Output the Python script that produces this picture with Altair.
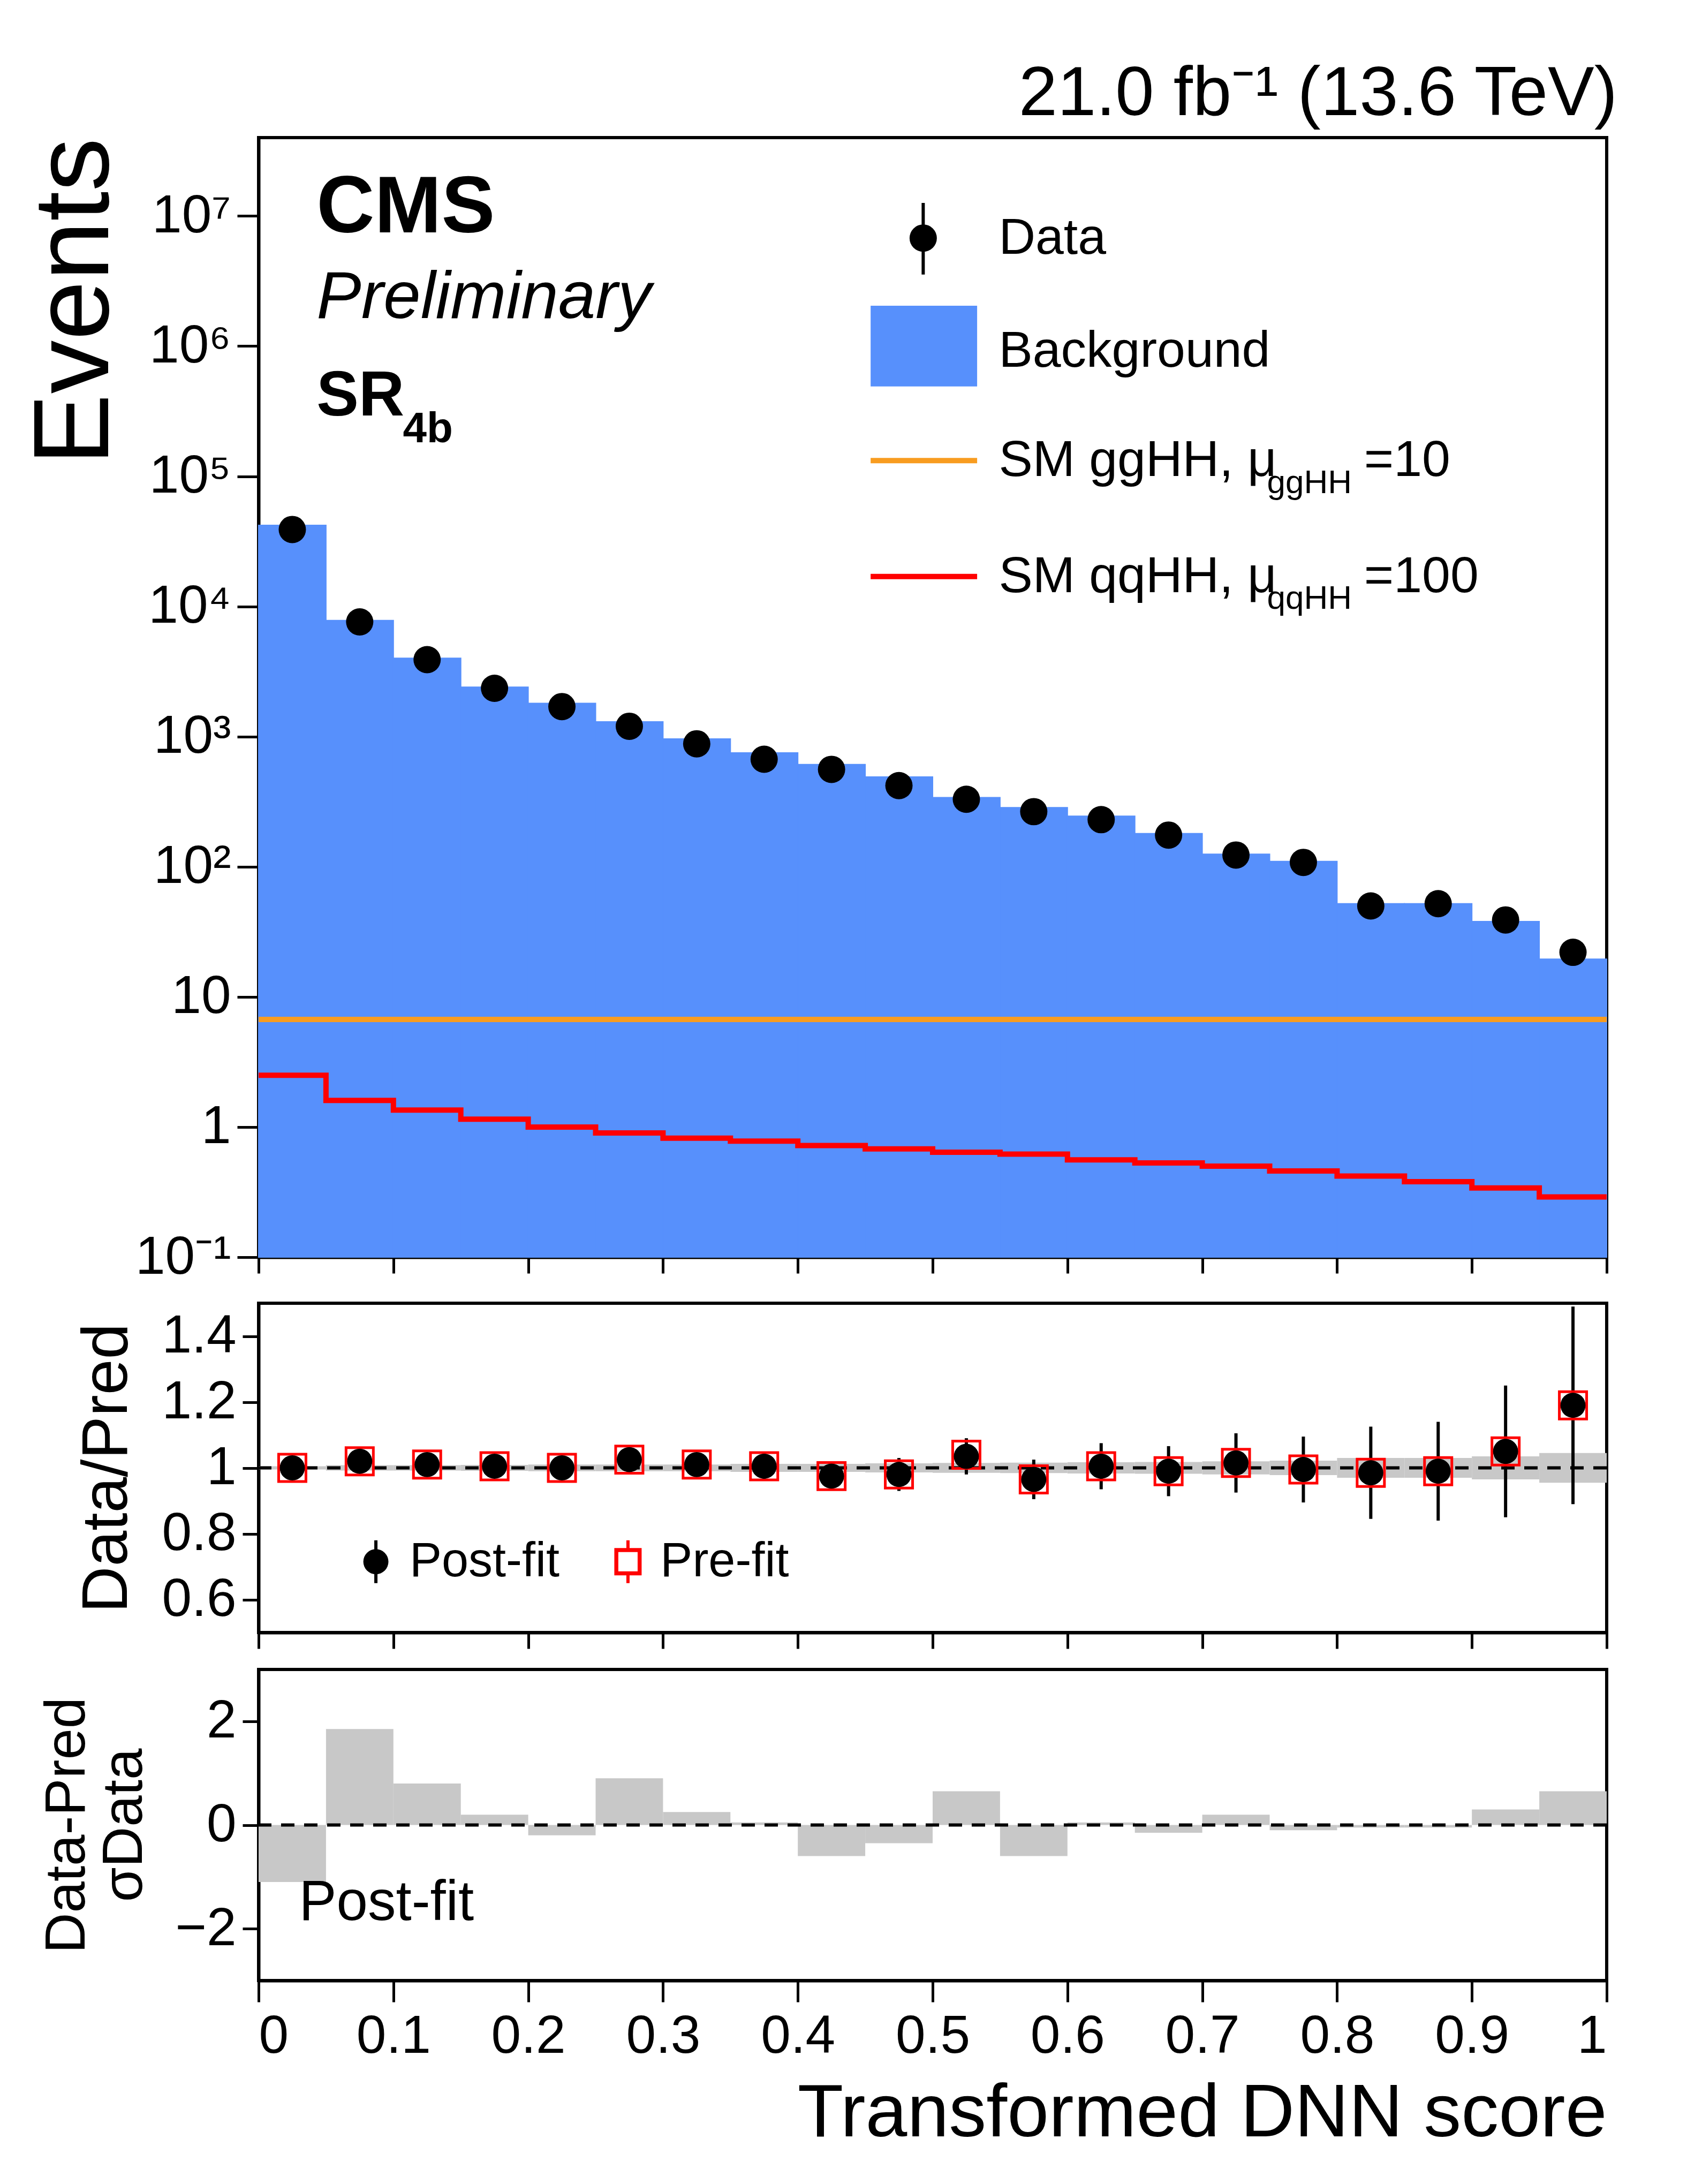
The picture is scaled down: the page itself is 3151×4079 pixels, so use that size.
import altair as alt
import pandas as pd

FONT = "Liberation Sans"

lo = [i * 0.05 for i in range(20)]
hi = [round(v + 0.05, 2) for v in lo]
mid = [round(v + 0.025, 3) for v in lo]

background = [4.2e4, 7.8e3, 4.0e3, 2.4e3, 1.8e3, 1.3e3, 960, 750, 610, 490,
              340, 285, 245, 180, 125, 110, 52, 52, 38, 19.5]
data_obs = [3.9e4, 7.6e3, 3.9e3, 2.35e3, 1.7e3, 1.2e3, 880, 670, 560, 420,
            330, 265, 230, 175, 123, 108, 50, 52, 39, 22]
gghh = [6.7] * 20
qqhh = [2.5, 1.6, 1.35, 1.15, 1.0, 0.9, 0.82, 0.78, 0.72, 0.68,
        0.64, 0.62, 0.56, 0.53, 0.5, 0.46, 0.42, 0.38, 0.34, 0.29]

ratio_post = [1.0, 1.02, 1.01, 1.005, 1.0, 1.025, 1.01, 1.005, 0.975, 0.98,
              1.035, 0.965, 1.005, 0.99, 1.015, 0.995, 0.985, 0.99, 1.05, 1.19]
ratio_pre = [1.0, 1.02, 1.01, 1.005, 1.0, 1.025, 1.01, 1.005, 0.975, 0.98,
             1.04, 0.965, 1.005, 0.99, 1.015, 0.995, 0.985, 0.99, 1.05, 1.19]
ratio_err = [0.005, 0.012, 0.016, 0.02, 0.024, 0.03, 0.034, 0.04, 0.042, 0.05,
             0.055, 0.06, 0.07, 0.076, 0.09, 0.1, 0.14, 0.15, 0.2, 0.3]
band = [0.005, 0.008, 0.008, 0.009, 0.01, 0.01, 0.01, 0.012, 0.012, 0.014,
        0.015, 0.016, 0.017, 0.018, 0.02, 0.022, 0.03, 0.03, 0.035, 0.045]
pulls = [-1.1, 1.85, 0.8, 0.2, -0.2, 0.9, 0.25, 0.05, -0.6, -0.35,
         0.65, -0.6, 0.05, -0.15, 0.2, -0.1, -0.05, -0.05, 0.3, 0.65]

df = pd.DataFrame({"lo": lo, "hi": hi, "mid": mid, "bkg": background, "data": data_obs,
                   "gg": gghh, "qq": qqhh, "rpost": ratio_post, "rpre": ratio_pre,
                   "rerr": ratio_err, "band": band, "pull": pulls})
df["floor"] = 0.1
df["rlo"] = df["rpost"] - df["rerr"]
df["rhi"] = (df["rpost"] + df["rerr"]).clip(upper=1.5)
df["blo"] = 1 - df["band"]
df["bhi"] = 1 + df["band"]
df["zero"] = 0.0
df["dlo"] = df["data"] - df["data"] ** 0.5
df["dhi"] = df["data"] + df["data"] ** 0.5

# step-line tables (edges + final point)
step = pd.DataFrame({"x": lo + [1.0], "gg": gghh + [gghh[-1]], "qq": qqhh + [qqhh[-1]]})

W = 2518
xs = alt.Scale(domain=[0, 1], nice=False, zero=False)
ys = alt.Scale(type="log", domain=[0.1, 4e7], nice=False)

noax = alt.Axis(labels=False, title=None, values=[i / 10 for i in range(11)],
                tickSize=30)
ylab = ("datum.value==0.1?'10⁻¹':datum.value==1?'1':datum.value==10?'10':"
        "datum.value==100?'10²':datum.value==1000?'10³':datum.value==10000?'10⁴':"
        "datum.value==100000?'10⁵':datum.value==1000000?'10⁶':'10⁷'")
yax = alt.Axis(title="Events", values=[0.1, 1, 10, 100, 1e3, 1e4, 1e5, 1e6, 1e7],
               labelExpr=ylab, titleFontSize=200, titleAnchor="end",
               titlePadding=40, tickSize=40)

base = alt.Chart(df)
bkg = base.mark_bar(color="#5790fc", stroke="#5790fc", strokeWidth=2).encode(
    x=alt.X("lo:Q", scale=xs, axis=noax), x2="hi:Q",
    y=alt.Y("bkg:Q", scale=ys, axis=yax), y2="floor:Q")
ggl = alt.Chart(step).mark_line(interpolate="step-after", color="#f89c20", strokeWidth=10).encode(
    x=alt.X("x:Q", scale=xs), y=alt.Y("gg:Q", scale=ys))
qql = alt.Chart(step).mark_line(interpolate="step-after", color="#ff0000", strokeWidth=10).encode(
    x=alt.X("x:Q", scale=xs), y=alt.Y("qq:Q", scale=ys))
derr = base.mark_rule(color="black", strokeWidth=6).encode(
    x="mid:Q", y=alt.Y("dlo:Q", scale=ys), y2="dhi:Q")
dpts = base.mark_circle(color="black", opacity=1, size=2600).encode(
    x="mid:Q", y=alt.Y("data:Q", scale=ys))

# legend and labels, placed in data coordinates
leg_txt = pd.DataFrame({
    "x": [0.549, 0.549, 0.549, 0.549],
    "y": [10 ** 6.83, 10 ** 5.96, 10 ** 5.12, 10 ** 4.23],
    "t": ["Data", "Background", "SM ggHH, μ", "SM qqHH, μ"]})
legtext = alt.Chart(leg_txt).mark_text(align="left", baseline="middle", font=FONT,
                                       fontSize=95).encode(
    x=alt.X("x:Q", scale=xs), y=alt.Y("y:Q", scale=ys), text="t:N")
sub_txt = pd.DataFrame({"x": [0.748, 0.748], "y": [10 ** 4.95, 10 ** 4.06],
                        "t": ["ggHH", "qqHH"]})
subtext = alt.Chart(sub_txt).mark_text(align="left", baseline="middle", font=FONT,
                                       fontSize=62).encode(
    x=alt.X("x:Q", scale=xs), y=alt.Y("y:Q", scale=ys), text="t:N")
eq_txt = pd.DataFrame({"x": [0.82, 0.82], "y": [10 ** 5.12, 10 ** 4.23],
                       "t": ["=10", "=100"]})
eqtext = alt.Chart(eq_txt).mark_text(align="left", baseline="middle", font=FONT,
                                     fontSize=95).encode(
    x=alt.X("x:Q", scale=xs), y=alt.Y("y:Q", scale=ys), text="t:N")
leg_box = pd.DataFrame({"x": [0.454], "x2": [0.533], "y": [10 ** 6.31], "y2": [10 ** 5.69]})
legbox = alt.Chart(leg_box).mark_rect(color="#5790fc").encode(
    x=alt.X("x:Q", scale=xs), x2="x2:Q", y=alt.Y("y:Q", scale=ys), y2="y2:Q")
leg_line = pd.DataFrame({"x": [0.454, 0.454], "x2": [0.533, 0.533],
                         "y": [10 ** 5.12, 10 ** 4.23], "c": ["#f89c20", "#ff0000"]})
leglines = alt.Chart(leg_line).mark_rule(strokeWidth=10).encode(
    x=alt.X("x:Q", scale=xs), x2="x2:Q", y=alt.Y("y:Q", scale=ys),
    color=alt.Color("c:N", scale=None))
leg_pt = pd.DataFrame({"x": [0.493], "y": [10 ** 6.83], "ylo": [10 ** 6.55], "yhi": [10 ** 7.1]})
legpt = alt.Chart(leg_pt).mark_circle(color="black", opacity=1, size=2600).encode(
    x=alt.X("x:Q", scale=xs), y=alt.Y("y:Q", scale=ys))
legpterr = alt.Chart(leg_pt).mark_rule(color="black", strokeWidth=6).encode(
    x=alt.X("x:Q", scale=xs), y=alt.Y("ylo:Q", scale=ys), y2="yhi:Q")

lab = pd.DataFrame({"x": [0.043, 0.043, 0.043], "y": [10 ** 7.06, 10 ** 6.37, 10 ** 5.61],
                    "t": ["CMS", "Preliminary", "SR"]})
cms = alt.Chart(lab.iloc[[0]]).mark_text(align="left", baseline="middle", font=FONT,
                                         fontSize=150, fontWeight="bold").encode(
    x=alt.X("x:Q", scale=xs), y=alt.Y("y:Q", scale=ys), text="t:N")
prel = alt.Chart(lab.iloc[[1]]).mark_text(align="left", baseline="middle", font=FONT,
                                          fontSize=125, fontStyle="italic").encode(
    x=alt.X("x:Q", scale=xs), y=alt.Y("y:Q", scale=ys), text="t:N")
sr = alt.Chart(lab.iloc[[2]]).mark_text(align="left", baseline="middle", font=FONT,
                                        fontSize=118, fontWeight="bold").encode(
    x=alt.X("x:Q", scale=xs), y=alt.Y("y:Q", scale=ys), text="t:N")
sr_sub = pd.DataFrame({"x": [0.107], "y": [10 ** 5.36], "t": ["4b"]})
srsub = alt.Chart(sr_sub).mark_text(align="left", baseline="middle", font=FONT,
                                    fontSize=80, fontWeight="bold").encode(
    x=alt.X("x:Q", scale=xs), y=alt.Y("y:Q", scale=ys), text="t:N")

top = alt.layer(bkg, ggl, qql, derr, dpts, legbox, leglines, legpterr, legpt,
                legtext, subtext, eqtext, cms, prel, sr, srsub).properties(
    width=W, height=2091,
    title=alt.TitleParams("21.0 fb⁻¹ (13.6 TeV)", anchor="end", fontSize=130,
                          font=FONT, fontWeight="normal", offset=15))

# ratio panel
rs = alt.Scale(domain=[0.5, 1.5], nice=False, zero=False)
rax = alt.Axis(title="Data/Pred", values=[0.6, 0.8, 1.0, 1.2, 1.4],
               labelExpr="datum.value==1?'1':format(datum.value,'.1f')",
               titleFontSize=120, titlePadding=40, tickSize=30)
rband = base.mark_rect(color="#c8c8c8").encode(
    x=alt.X("lo:Q", scale=xs, axis=noax), x2="hi:Q",
    y=alt.Y("blo:Q", scale=rs, axis=rax), y2="bhi:Q")
one = pd.DataFrame({"v": [1.0]})
rline = alt.Chart(one).mark_rule(color="black", strokeDash=[25, 18], strokeWidth=6).encode(
    y=alt.Y("v:Q", scale=rs))
rerr = base.mark_rule(color="black", strokeWidth=6).encode(
    x=alt.X("mid:Q", scale=xs), y=alt.Y("rlo:Q", scale=rs), y2="rhi:Q")
rpre = base.mark_square(color="red", filled=False, strokeWidth=5, size=2600, opacity=1).encode(
    x=alt.X("mid:Q", scale=xs), y=alt.Y("rpre:Q", scale=rs))
rpost = base.mark_circle(color="black", opacity=1, size=2200).encode(
    x=alt.X("mid:Q", scale=xs), y=alt.Y("rpost:Q", scale=rs))
rleg = pd.DataFrame({"x": [0.087, 0.274], "y": [0.715, 0.715], "ylo": [0.65, 0.65],
                     "yhi": [0.78, 0.78], "tx": [0.112, 0.298], "t": ["Post-fit", "Pre-fit"]})
rlegerr1 = alt.Chart(rleg.iloc[[0]]).mark_rule(color="black", strokeWidth=6).encode(
    x=alt.X("x:Q", scale=xs), y=alt.Y("ylo:Q", scale=rs), y2="yhi:Q")
rlegerr2 = alt.Chart(rleg.iloc[[1]]).mark_rule(color="red", strokeWidth=6).encode(
    x=alt.X("x:Q", scale=xs), y=alt.Y("ylo:Q", scale=rs), y2="yhi:Q")
rlegpt = alt.Chart(rleg.iloc[[0]]).mark_circle(color="black", opacity=1, size=2200).encode(
    x=alt.X("x:Q", scale=xs), y=alt.Y("y:Q", scale=rs))
rlegsq = alt.Chart(rleg.iloc[[1]]).mark_square(color="red", filled=True, size=2600, opacity=1).encode(
    x=alt.X("x:Q", scale=xs), y=alt.Y("y:Q", scale=rs))
rlegsq2 = alt.Chart(rleg.iloc[[1]]).mark_square(color="white", filled=True, size=1300, opacity=1).encode(
    x=alt.X("x:Q", scale=xs), y=alt.Y("y:Q", scale=rs))
rlegtxt = alt.Chart(rleg).mark_text(align="left", baseline="middle", font=FONT,
                                    fontSize=90).encode(
    x=alt.X("tx:Q", scale=xs), y=alt.Y("y:Q", scale=rs), text="t:N")
ratio = alt.layer(rband, rline, rerr, rpre, rpost, rlegerr1, rlegerr2, rlegpt,
                  rlegsq, rlegsq2, rlegtxt).properties(width=W, height=615)

# pull panel
ps = alt.Scale(domain=[-3, 3], nice=False, zero=False)
pax = alt.Axis(title=["Data-Pred", "σData"], values=[-2, 0, 2],
               labelExpr="datum.value<0?'−'+abs(datum.value):datum.value+''",
               titleFontSize=105, titlePadding=40, tickSize=30)
xax = alt.Axis(title="Transformed DNN score", values=[i / 10 for i in range(11)],
               format="~g", titleFontSize=140, titleAnchor="end", titlePadding=25,
               tickSize=40, labelPadding=15)
pbar = base.mark_bar(color="#c8c8c8").encode(
    x=alt.X("lo:Q", scale=xs, axis=xax), x2="hi:Q",
    y=alt.Y("pull:Q", scale=ps, axis=pax), y2="zero:Q")
zero = pd.DataFrame({"v": [0.0]})
pline = alt.Chart(zero).mark_rule(color="black", strokeDash=[25, 18], strokeWidth=6).encode(
    y=alt.Y("v:Q", scale=ps))
plab = pd.DataFrame({"x": [0.03], "y": [-1.5], "t": ["Post-fit"]})
ptxt = alt.Chart(plab).mark_text(align="left", baseline="middle", font=FONT,
                                 fontSize=105).encode(
    x=alt.X("x:Q", scale=xs), y=alt.Y("y:Q", scale=ps), text="t:N")
pull = alt.layer(pbar, pline, ptxt).properties(width=W, height=581)

chart = alt.vconcat(top, ratio, pull, spacing=30, background="white",
                    padding={"left": 30, "top": 100, "right": 60, "bottom": 20}
).configure_view(
    stroke="black", strokeWidth=6
).configure_axis(
    grid=False, labelFont=FONT, titleFont=FONT, labelFontSize=100, labelColor="black",
    titleColor="black", titleFontWeight="normal", domainColor="black", domainWidth=6,
    tickColor="black", tickWidth=5, labelPadding=12
)

chart.save("out.html", embed_options={"renderer": "svg", "actions": False})
